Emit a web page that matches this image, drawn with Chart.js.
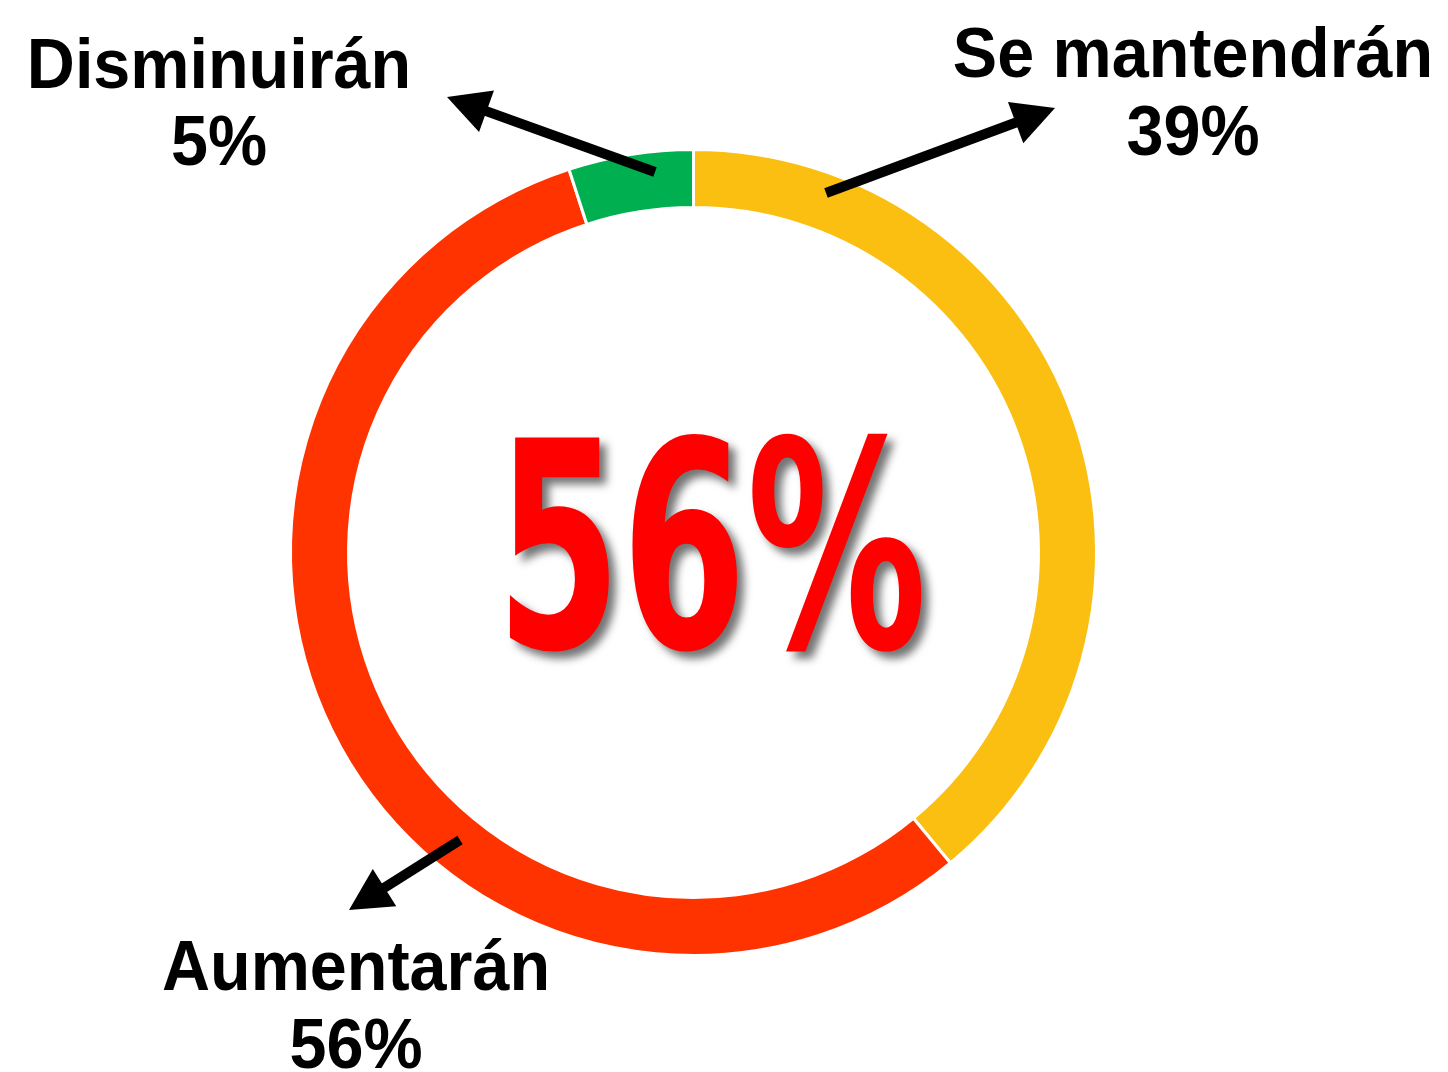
<!DOCTYPE html>
<html>
<head>
<meta charset="utf-8">
<script src="https://cdn.jsdelivr.net/npm/chart.js@4/dist/chart.umd.min.js"></script>
<style>
  body { margin: 0; background: #fff; }
  #wrap { width: 1448px; height: 1072px; }
</style>
</head>
<body>
<div id="wrap"><canvas id="donaChart" width="1448" height="1072"></canvas></div>
<script>
const categorias = ['Se mantendrán', 'Aumentarán', 'Disminuirán'];
const valores = [39, 56, 5];
const colores = ['#FBBF12', '#FF3300', '#00B050'];
const textoCentral = '56%';

// etiquetas con flecha: texto, porcentaje, posición del texto y de la flecha
const etiquetas = [
    { nombre: 'Se mantendrán', x: 1193, y1: 77, y2: 155, desde: [826, 193], hasta: [1055, 108] },
    { nombre: 'Aumentarán', x: 356, y1: 990, y2: 1068, desde: [460, 840], hasta: [349, 910] },
    { nombre: 'Disminuirán', x: 219, y1: 88, y2: 165, desde: [655, 172], hasta: [447, 97] }
];

function flecha(ctx, x1, y1, x2, y2) {
    const ang = Math.atan2(y2 - y1, x2 - x1);
    const largo = 42, ancho = 22;
    const bx = x2 - Math.cos(ang) * largo;
    const by = y2 - Math.sin(ang) * largo;
    ctx.save();
    ctx.strokeStyle = '#000';
    ctx.fillStyle = '#000';
    ctx.lineWidth = 10;
    ctx.beginPath();
    ctx.moveTo(x1, y1);
    ctx.lineTo(bx + Math.cos(ang) * 4, by + Math.sin(ang) * 4);
    ctx.stroke();
    ctx.beginPath();
    ctx.moveTo(x2, y2);
    ctx.lineTo(bx - Math.sin(ang) * ancho, by + Math.cos(ang) * ancho);
    ctx.lineTo(bx + Math.sin(ang) * ancho, by - Math.cos(ang) * ancho);
    ctx.closePath();
    ctx.fill();
    ctx.restore();
}

function texto(ctx, t, x, y, font, escala) {
    ctx.save();
    ctx.translate(x, y);
    ctx.scale(escala, 1);
    ctx.font = font;
    ctx.textAlign = 'center';
    ctx.textBaseline = 'alphabetic';
    ctx.fillText(t, 0, 0);
    ctx.restore();
}

const anotaciones = {
    id: 'anotaciones',
    afterDraw(chart) {
        const ctx = chart.ctx;
        const meta = chart.getDatasetMeta(0);
        const arc = meta.data[0];

        // número central
        ctx.save();
        ctx.fillStyle = '#FF0000';
        ctx.shadowColor = 'rgba(0,0,0,0.55)';
        ctx.shadowBlur = 8;
        ctx.shadowOffsetX = 7;
        ctx.shadowOffsetY = 7;
        texto(ctx, textoCentral, arc.x + 18, arc.y + 95, 'bold 288px "DejaVu Sans"', 0.625);
        ctx.restore();

        ctx.fillStyle = '#000';
        etiquetas.forEach((e, i) => {
            texto(ctx, e.nombre, e.x, e.y1, 'bold 70px "Liberation Sans", Arial', 0.95);
            texto(ctx, valores[i] + '%', e.x, e.y2, 'bold 70px "Liberation Sans", Arial', 0.95);
            flecha(ctx, e.desde[0], e.desde[1], e.hasta[0], e.hasta[1]);
        });
    }
};

new Chart(document.getElementById('donaChart').getContext('2d'), {
    type: 'doughnut',
    data: {
        labels: categorias,
        datasets: [{
            data: valores,
            backgroundColor: colores,
            borderColor: '#ffffff',
            borderWidth: 3
        }]
    },
    options: {
        responsive: false,
        animation: false,
        cutout: '85.6%',
        layout: { padding: { left: 289, right: 350, top: 148, bottom: 115 } },
        plugins: {
            legend: { display: false },
            tooltip: { enabled: false }
        }
    },
    plugins: [anotaciones]
});
</script>
</body>
</html>
